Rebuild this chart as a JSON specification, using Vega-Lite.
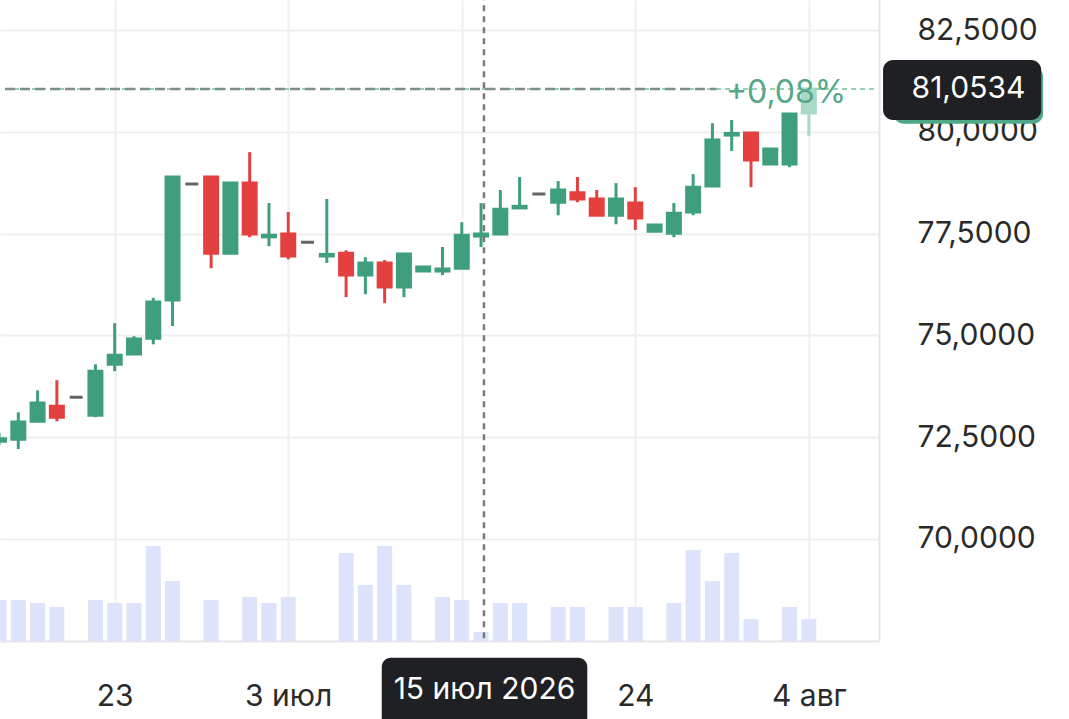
{
  "$schema": "https://vega.github.io/schema/vega-lite/v6.json",
  "width": 879,
  "height": 641,
  "autosize": {"type": "none"},
  "padding": {"left": 0, "top": 0, "right": 190, "bottom": 78},
  "background": "white",
  "config": {
    "view": {"stroke": null},
    "font": "Inter",
    "text": {"font": "Inter"}
  },
  "datasets": {
    "candles": [
      {"i": 0, "o": 72.40, "h": 72.60, "l": 72.30, "c": 72.46, "dir": "up"},
      {"i": 1, "o": 72.45, "h": 73.11, "l": 72.21, "c": 72.87, "dir": "up"},
      {"i": 2, "o": 72.89, "h": 73.65, "l": 72.87, "c": 73.34, "dir": "up"},
      {"i": 3, "o": 73.26, "h": 73.90, "l": 72.89, "c": 72.99, "dir": "down"},
      {"i": 4, "o": 73.48, "h": 73.48, "l": 73.48, "c": 73.48, "dir": "flat"},
      {"i": 5, "o": 73.04, "h": 74.29, "l": 72.99, "c": 74.12, "dir": "up"},
      {"i": 6, "o": 74.29, "h": 75.30, "l": 74.12, "c": 74.51, "dir": "up"},
      {"i": 7, "o": 74.54, "h": 74.98, "l": 74.54, "c": 74.91, "dir": "up"},
      {"i": 8, "o": 74.93, "h": 75.92, "l": 74.78, "c": 75.82, "dir": "up"},
      {"i": 9, "o": 75.87, "h": 78.89, "l": 75.23, "c": 78.89, "dir": "up"},
      {"i": 10, "o": 78.72, "h": 78.72, "l": 78.72, "c": 78.72, "dir": "flat"},
      {"i": 11, "o": 78.89, "h": 78.89, "l": 76.65, "c": 77.02, "dir": "down"},
      {"i": 12, "o": 77.02, "h": 78.74, "l": 77.02, "c": 78.74, "dir": "up"},
      {"i": 13, "o": 78.74, "h": 79.50, "l": 77.41, "c": 77.49, "dir": "down"},
      {"i": 14, "o": 77.42, "h": 78.25, "l": 77.19, "c": 77.46, "dir": "up"},
      {"i": 15, "o": 77.49, "h": 78.03, "l": 76.87, "c": 76.95, "dir": "down"},
      {"i": 16, "o": 77.29, "h": 77.29, "l": 77.29, "c": 77.29, "dir": "flat"},
      {"i": 17, "o": 76.95, "h": 78.35, "l": 76.78, "c": 76.99, "dir": "up"},
      {"i": 18, "o": 77.02, "h": 77.09, "l": 75.94, "c": 76.48, "dir": "down"},
      {"i": 19, "o": 76.48, "h": 76.92, "l": 76.01, "c": 76.78, "dir": "up"},
      {"i": 20, "o": 76.78, "h": 76.85, "l": 75.79, "c": 76.19, "dir": "down"},
      {"i": 21, "o": 76.19, "h": 77.00, "l": 75.94, "c": 77.00, "dir": "up"},
      {"i": 22, "o": 76.58, "h": 76.68, "l": 76.58, "c": 76.68, "dir": "up"},
      {"i": 23, "o": 76.58, "h": 77.17, "l": 76.48, "c": 76.63, "dir": "up"},
      {"i": 24, "o": 76.65, "h": 77.78, "l": 76.63, "c": 77.46, "dir": "up"},
      {"i": 25, "o": 77.44, "h": 78.25, "l": 77.17, "c": 77.49, "dir": "up"},
      {"i": 26, "o": 77.49, "h": 78.57, "l": 77.49, "c": 78.10, "dir": "up"},
      {"i": 27, "o": 78.13, "h": 78.89, "l": 78.13, "c": 78.17, "dir": "up"},
      {"i": 28, "o": 78.47, "h": 78.47, "l": 78.47, "c": 78.47, "dir": "flat"},
      {"i": 29, "o": 78.27, "h": 78.79, "l": 77.95, "c": 78.57, "dir": "up"},
      {"i": 30, "o": 78.50, "h": 78.89, "l": 78.27, "c": 78.35, "dir": "down"},
      {"i": 31, "o": 78.35, "h": 78.57, "l": 77.95, "c": 77.95, "dir": "down"},
      {"i": 32, "o": 77.95, "h": 78.74, "l": 77.73, "c": 78.35, "dir": "up"},
      {"i": 33, "o": 78.25, "h": 78.64, "l": 77.59, "c": 77.88, "dir": "down"},
      {"i": 34, "o": 77.56, "h": 77.71, "l": 77.56, "c": 77.71, "dir": "up"},
      {"i": 35, "o": 77.51, "h": 78.25, "l": 77.41, "c": 78.00, "dir": "up"},
      {"i": 36, "o": 78.03, "h": 78.96, "l": 77.95, "c": 78.64, "dir": "up"},
      {"i": 37, "o": 78.67, "h": 80.21, "l": 78.67, "c": 79.80, "dir": "up"},
      {"i": 38, "o": 79.92, "h": 80.29, "l": 79.53, "c": 79.96, "dir": "up"},
      {"i": 39, "o": 79.97, "h": 79.97, "l": 78.64, "c": 79.31, "dir": "down"},
      {"i": 40, "o": 79.21, "h": 79.58, "l": 79.21, "c": 79.58, "dir": "up"},
      {"i": 41, "o": 79.21, "h": 80.44, "l": 79.13, "c": 80.44, "dir": "up"},
      {"i": 42, "o": 80.46, "h": 81.0534, "l": 79.90, "c": 81.0534, "dir": "live"}
    ],
    "volume": [
      {"i": 0, "v": 4.1}, {"i": 1, "v": 4.1}, {"i": 2, "v": 3.8}, {"i": 3, "v": 3.4},
      {"i": 5, "v": 4.1}, {"i": 6, "v": 3.8}, {"i": 7, "v": 3.8}, {"i": 8, "v": 9.5},
      {"i": 9, "v": 6.0}, {"i": 11, "v": 4.1}, {"i": 13, "v": 4.4}, {"i": 14, "v": 3.8},
      {"i": 15, "v": 4.4}, {"i": 18, "v": 8.8}, {"i": 19, "v": 5.6}, {"i": 20, "v": 9.5},
      {"i": 21, "v": 5.6}, {"i": 23, "v": 4.4}, {"i": 24, "v": 4.1}, {"i": 25, "v": 0.9},
      {"i": 26, "v": 3.8}, {"i": 27, "v": 3.8}, {"i": 29, "v": 3.4}, {"i": 30, "v": 3.4},
      {"i": 32, "v": 3.4}, {"i": 33, "v": 3.4}, {"i": 35, "v": 3.8}, {"i": 36, "v": 9.1},
      {"i": 37, "v": 6.0}, {"i": 38, "v": 8.8}, {"i": 39, "v": 2.2}, {"i": 41, "v": 3.4},
      {"i": 42, "v": 2.2}
    ]
  },
  "layer": [
    {
      "data": {"name": "volume"},
      "mark": {"type": "bar", "orient": "vertical", "size": 15, "color": "#dde3fa"},
      "encoding": {
        "x": {"field": "i", "type": "quantitative", "title": null,
              "scale": {"domain": [0.31, 45.38], "nice": false, "zero": false},
              "axis": {
                "values": [6, 15, 24, 33, 42],
                "labelExpr": "datum.value == 6 ? '23' : datum.value == 15 ? '3 июл' : datum.value == 33 ? '24' : datum.value == 42 ? '4 авг' : ''",
                "ticks": false,
                "labelPadding": 55,
                "labelBaseline": "middle",
                "labelFont": "Inter",
                "labelFontSize": 30,
                "labelColor": "#2a2a2a",
                "labelFlush": false,
                "labelOverlap": false,
                "grid": true,
                "gridColor": "#efefef",
                "gridWidth": 2,
                "domain": true,
                "domainColor": "#e6e6e6",
                "domainWidth": 2
              }},
        "y": {"field": "v", "type": "quantitative", "title": null, "axis": null,
              "scale": {"domain": [0, 64.1], "nice": false, "zero": true}}
      }
    },
    {
      "layer": [
        {
          "data": {"name": "candles"},
          "mark": {"type": "rule", "strokeWidth": 3},
          "encoding": {
            "x": {"field": "i", "type": "quantitative", "title": null},
            "y": {"field": "l", "type": "quantitative", "title": null,
                  "scale": {"domain": [67.494, 83.237], "nice": false, "zero": false},
                  "axis": {
                    "orient": "right",
                    "values": [70, 72.5, 75, 77.5, 80, 82.5],
                    "labelExpr": "replace(format(datum.value, '.4f'), '.', ',')",
                    "ticks": false,
                    "labelPadding": 38,
                    "labelAlign": "left",
                    "labelBaseline": "middle",
                    "labelFont": "Inter",
                    "labelFontSize": 30,
                    "labelColor": "#2a2a2a",
                    "labelFlush": false,
                    "labelOverlap": false,
                    "grid": true,
                    "gridColor": "#efefef",
                    "gridWidth": 2,
                    "domain": true,
                    "domainColor": "#e6e6e6",
                    "domainWidth": 2
                  }},
            "y2": {"field": "h"},
            "color": {"field": "dir", "type": "nominal", "legend": null,
                      "scale": {"domain": ["up", "down", "flat", "live"],
                                "range": ["#3f9e7c", "#e4403f", "#62656a", "#a9dac6"]}}
          }
        },
        {
          "data": {"name": "candles"},
          "mark": {"type": "bar", "orient": "vertical", "size": 13, "strokeWidth": 3},
          "encoding": {
            "x": {"field": "i", "type": "quantitative", "title": null},
            "y": {"field": "o", "type": "quantitative", "title": null},
            "y2": {"field": "c"},
            "color": {"field": "dir", "type": "nominal", "legend": null},
            "stroke": {"field": "dir", "type": "nominal", "legend": null,
                       "scale": {"domain": ["up", "down", "flat", "live"],
                                 "range": ["#3f9e7c", "#e4403f", "#62656a", "#a9dac6"]}}
          }
        },
        {
          "data": {"values": [{"x": 0.31, "x2": 45.38, "p": 81.0534}]},
          "mark": {"type": "rule", "strokeWidth": 2, "strokeDash": [5, 4], "color": "#93d1b8"},
          "encoding": {
            "x": {"field": "x", "type": "quantitative", "title": null},
            "x2": {"field": "x2"},
            "y": {"field": "p", "type": "quantitative", "title": null}
          }
        },
        {
          "data": {"values": [{"x": 0.31, "x2": 37.2, "p": 81.0534}]},
          "mark": {"type": "rule", "strokeWidth": 2.5, "strokeDash": [10, 5], "color": "#7f8c87"},
          "encoding": {
            "x": {"field": "x", "type": "quantitative", "title": null},
            "x2": {"field": "x2"},
            "y": {"field": "p", "type": "quantitative", "title": null}
          }
        },
        {
          "data": {"values": [{"x": 25.15, "p": 67.56, "p2": 83.237}]},
          "mark": {"type": "rule", "strokeWidth": 2.5, "strokeDash": [6, 5], "color": "#7a7a7a"},
          "encoding": {
            "x": {"field": "x", "type": "quantitative", "title": null},
            "y": {"field": "p", "type": "quantitative", "title": null},
            "y2": {"field": "p2"}
          }
        },
        {
          "data": {"values": [{"x": 40.82, "p": 80.95, "t": "+0,08%"}]},
          "mark": {"type": "text", "font": "Inter", "fontSize": 32, "color": "#55a888", "align": "center", "baseline": "middle"},
          "encoding": {
            "x": {"field": "x", "type": "quantitative", "title": null},
            "y": {"field": "p", "type": "quantitative", "title": null},
            "text": {"field": "t"}
          }
        },
        {
          "data": {"values": [{"x": 19.85, "x2": 30.51, "p": 67.08, "p2": 65.2}]},
          "mark": {"type": "rect", "color": "#1f2023", "cornerRadius": 9},
          "encoding": {
            "x": {"field": "x", "type": "quantitative", "title": null},
            "x2": {"field": "x2"},
            "y": {"field": "p", "type": "quantitative", "title": null},
            "y2": {"field": "p2"}
          }
        },
        {
          "data": {"values": [{"x": 25.18, "p": 66.29, "t": "15 июл 2026"}]},
          "mark": {"type": "text", "font": "Inter", "fontSize": 30, "color": "#ffffff", "align": "center", "baseline": "middle"},
          "encoding": {
            "x": {"field": "x", "type": "quantitative", "title": null},
            "y": {"field": "p", "type": "quantitative", "title": null},
            "text": {"field": "t"}
          }
        },
        {
          "data": {"values": [{"x": 46.4, "x2": 54.15, "p": 81.6, "p2": 80.2}]},
          "mark": {"type": "rect", "color": "#4fa886", "cornerRadius": 10},
          "encoding": {
            "x": {"field": "x", "type": "quantitative", "title": null},
            "x2": {"field": "x2"},
            "y": {"field": "p", "type": "quantitative", "title": null},
            "y2": {"field": "p2"}
          }
        },
        {
          "data": {"values": [{"x": 45.85, "x2": 54.05, "p": 81.763, "p2": 80.289}]},
          "mark": {"type": "rect", "color": "#1f2023", "cornerRadius": 10},
          "encoding": {
            "x": {"field": "x", "type": "quantitative", "title": null},
            "x2": {"field": "x2"},
            "y": {"field": "p", "type": "quantitative", "title": null},
            "y2": {"field": "p2"}
          }
        },
        {
          "data": {"values": [{"x": 47.33, "p": 81.0534, "t": "81,0534"}]},
          "mark": {"type": "text", "font": "Inter", "fontSize": 30, "color": "#ffffff", "align": "left", "baseline": "middle"},
          "encoding": {
            "x": {"field": "x", "type": "quantitative", "title": null},
            "y": {"field": "p", "type": "quantitative", "title": null},
            "text": {"field": "t"}
          }
        }
      ]
    }
  ],
  "resolve": {"scale": {"y": "independent"}}
}
